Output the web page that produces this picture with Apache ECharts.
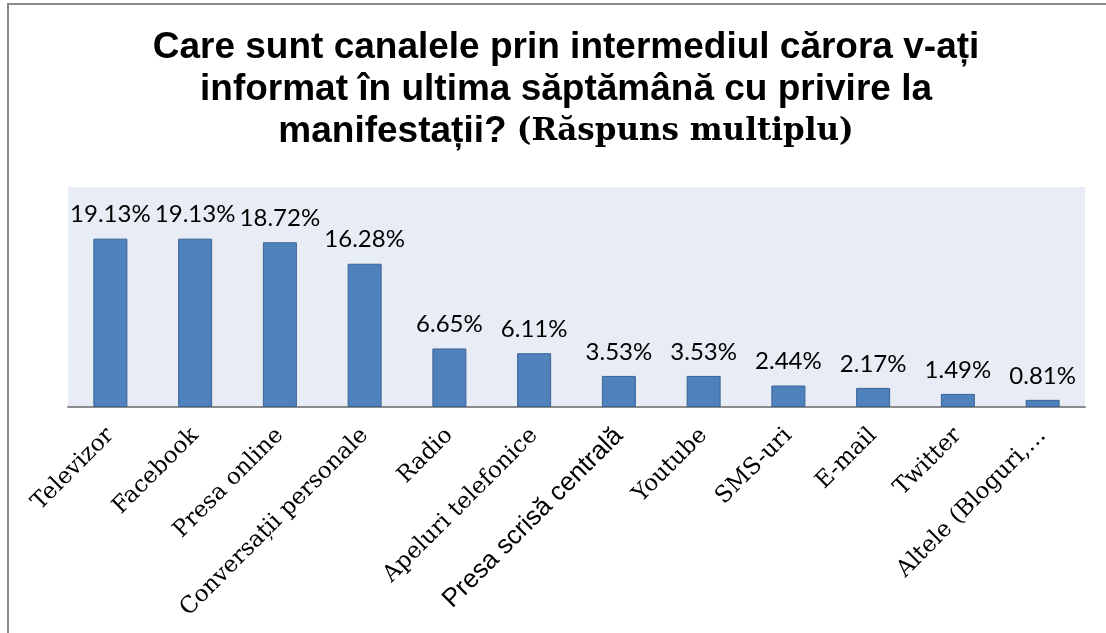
<!DOCTYPE html>
<html>
<head>
<meta charset="utf-8">
<script src="https://cdn.jsdelivr.net/npm/echarts@6/dist/echarts.min.js"></script>
<style>
    html, body { margin: 0; padding: 0; background: #fff; }
    #chart { width: 1106px; height: 633px; }
</style>
</head>
<body>
<div id="chart"></div>
<script>
// MARK: - Data

const categories = [
    'Televizor', 'Facebook', 'Presa online', 'Conversații personale', 'Radio',
    'Apeluri telefonice', 'Presa scrisă centrală', 'Youtube', 'SMS-uri',
    'E-mail', 'Twitter', 'Altele (Bloguri,…'
];
const percentages = [19.13, 19.13, 18.72, 16.28, 6.65, 6.11, 3.53, 3.53, 2.44, 2.17, 1.49, 0.81];

// this one label was typed in a sans font in the original sheet
const sansLabels = ['Presa scrisă centrală'];

// MARK: - Chart

let chart = echarts.init(document.getElementById('chart'), null, {renderer: 'canvas'});

let axisData = categories.map(name => {
    if (sansLabels.indexOf(name) !== -1) {
        return {value: name, textStyle: {fontFamily: 'Liberation Sans', fontSize: 26}};
    }
    return name;
});

let option = {
    backgroundColor: '#ffffff',
    animation: false,
    title: {
        text: '{a|Care sunt canalele prin intermediul cărora v-ați}\n' +
            '{a|informat în ultima săptămână cu privire la}\n' +
            '{a|manifestații? }{b|(Răspuns multiplu)}',
        left: 561,
        top: 22,
        textAlign: 'center',
        textStyle: {
            rich: {
                a: {
                    fontFamily: 'Liberation Sans',
                    fontWeight: 'bold',
                    fontSize: 37,
                    lineHeight: 42,
                    color: '#000'
                },
                b: {
                    fontFamily: 'DejaVu Serif',
                    fontWeight: 'bold',
                    fontSize: 31,
                    lineHeight: 42,
                    color: '#000'
                }
            }
        }
    },
    graphic: [
        {
            type: 'rect',
            shape: {x: 8, y: 4, width: 1200, height: 700},
            style: {fill: 'none', stroke: '#8a8a8a', lineWidth: 2},
            silent: true
        }
    ],
    grid: {
        left: 68,
        right: 21,
        top: 187,
        bottom: 226,
        show: true,
        backgroundColor: '#e8ecf4',
        borderWidth: 0
    },
    xAxis: {
        type: 'category',
        data: axisData,
        axisLine: {lineStyle: {color: '#8c8c8c', width: 2}},
        axisTick: {show: false},
        axisLabel: {
            interval: 0,
            rotate: 45,
            margin: 25,
            fontFamily: 'DejaVu Serif',
            fontSize: 23,
            color: '#000'
        }
    },
    yAxis: {
        type: 'value',
        min: 0,
        max: 25,
        show: false,
        splitLine: {show: false}
    },
    series: [
        {
            type: 'bar',
            data: percentages,
            barWidth: 34,
            itemStyle: {
                color: '#4f81bd',
                borderColor: '#3a6394',
                borderWidth: 1
            },
            label: {
                show: true,
                position: 'top',
                distance: 12,
                fontFamily: 'Lato',
                fontSize: 24,
                color: '#000',
                formatter: p => p.value.toFixed(2) + '%'
            }
        }
    ]
};

option && chart.setOption(option);
</script>
</body>
</html>
